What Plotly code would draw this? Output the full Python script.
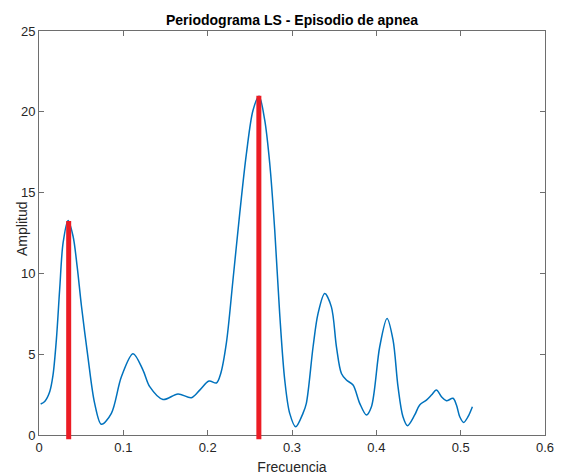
import plotly.graph_objects as go

# Lomb-Scargle periodogram of the apnea episode
frecuencia = [0.002, 0.0068, 0.0127, 0.0166, 0.0206, 0.0245, 0.0286, 0.0345,
              0.0404, 0.0453, 0.0503, 0.058, 0.066, 0.074, 0.0858, 0.0977, 0.1115,
              0.1233, 0.1313, 0.147, 0.1648, 0.1807, 0.1906, 0.2016, 0.2104,
              0.2155, 0.2222, 0.230, 0.238, 0.2459, 0.2538, 0.2609, 0.2676,
              0.2736, 0.2795, 0.2854, 0.2914, 0.2973, 0.3044, 0.313, 0.317,
              0.325, 0.3308, 0.3388, 0.3467, 0.3527, 0.3586, 0.3645, 0.3724,
              0.3803, 0.3882, 0.3942, 0.404, 0.4127, 0.4198, 0.4257, 0.4316,
              0.4369, 0.4455, 0.4514, 0.4594, 0.4653, 0.4712, 0.4772, 0.4831,
              0.4909, 0.495, 0.4989, 0.5036, 0.5087, 0.5139]
amplitud = [1.92, 2.08, 2.68, 3.7, 5.9, 9.0, 11.9, 13.28,
            12.3, 10.4, 8.0, 4.84, 1.96, 0.66, 1.34, 3.6, 5.03,
            4.02, 2.99, 2.2, 2.54, 2.31, 2.78, 3.34, 3.22,
            3.81, 5.7, 9.59, 13.7, 17.4, 20.1, 20.96, 19.5,
            16.8, 12.7, 7.5, 3.4, 1.34, 0.51, 1.34, 1.96,
            5.46, 7.5, 8.76, 7.93, 5.46, 3.81, 3.4, 3.09,
            1.96, 1.24, 1.75, 5.46, 7.21, 5.88, 2.99, 1.13,
            0.58, 1.24, 1.86, 2.16, 2.47, 2.78, 2.37, 2.12,
            2.27, 1.86, 1.13, 0.78, 1.13, 1.75]

# Dominant peaks marked with red stems
picos_frec = [0.0352, 0.2607]
picos_amp = [13.25, 21.0]
base_stem = -0.35

x_ticks = [0, 0.1, 0.2, 0.3, 0.4, 0.5, 0.6]
y_ticks = [0, 5, 10, 15, 20, 25]

font_family = "Liberation Sans, Arial, sans-serif"
axis_color = "#6e6e6e"
text_color = "#262626"

fig = go.Figure()
fig.add_trace(go.Scatter(
    x=frecuencia, y=amplitud, mode="lines",
    line=dict(color="#0072BD", width=1.5, shape="spline", smoothing=0.9),
    showlegend=False, hoverinfo="skip",
))

for f, a in zip(picos_frec, picos_amp):
    fig.add_annotation(
        x=f, y=a, ax=f, ay=base_stem, xref="x", yref="y", axref="x", ayref="y",
        text="", showarrow=True, arrowhead=0, arrowwidth=5,
        arrowcolor="rgb(236,28,36)", standoff=0, startstandoff=0,
    )

# y-axis label placed beside the tick labels
fig.add_annotation(
    text="Amplitud", textangle=-90, showarrow=False,
    xref="paper", yref="paper", x=0, y=0.5, xanchor="center", yanchor="middle",
    xshift=-17, yshift=4,
    font=dict(family=font_family, size=14, color=text_color),
)

axis_common = dict(
    showgrid=False, zeroline=False, showline=True, linecolor=axis_color,
    linewidth=1, mirror="ticks", ticks="inside", ticklen=5, tickcolor=axis_color,
    tickfont=dict(family=font_family, size=13, color=text_color),
    automargin=False,
)

fig.update_layout(
    width=561, height=475,
    margin=dict(l=39, r=16, t=31, b=40),
    paper_bgcolor="white", plot_bgcolor="white",
    title=dict(text="<b>Periodograma LS - Episodio de apnea</b>",
               font=dict(family=font_family, size=14, color="black"),
               x=0.5, xref="paper", xanchor="center", y=1, yref="paper",
               yanchor="bottom", pad=dict(b=6)),
    xaxis=dict(range=[0, 0.6], tickvals=x_ticks, ticktext=[f"{v:g}" for v in x_ticks],
               title=dict(text="Frecuencia",
                          font=dict(family=font_family, size=14, color=text_color)),
               **axis_common),
    yaxis=dict(range=[0, 25], tickvals=y_ticks, **axis_common),
)

fig.write_html("out.html")
